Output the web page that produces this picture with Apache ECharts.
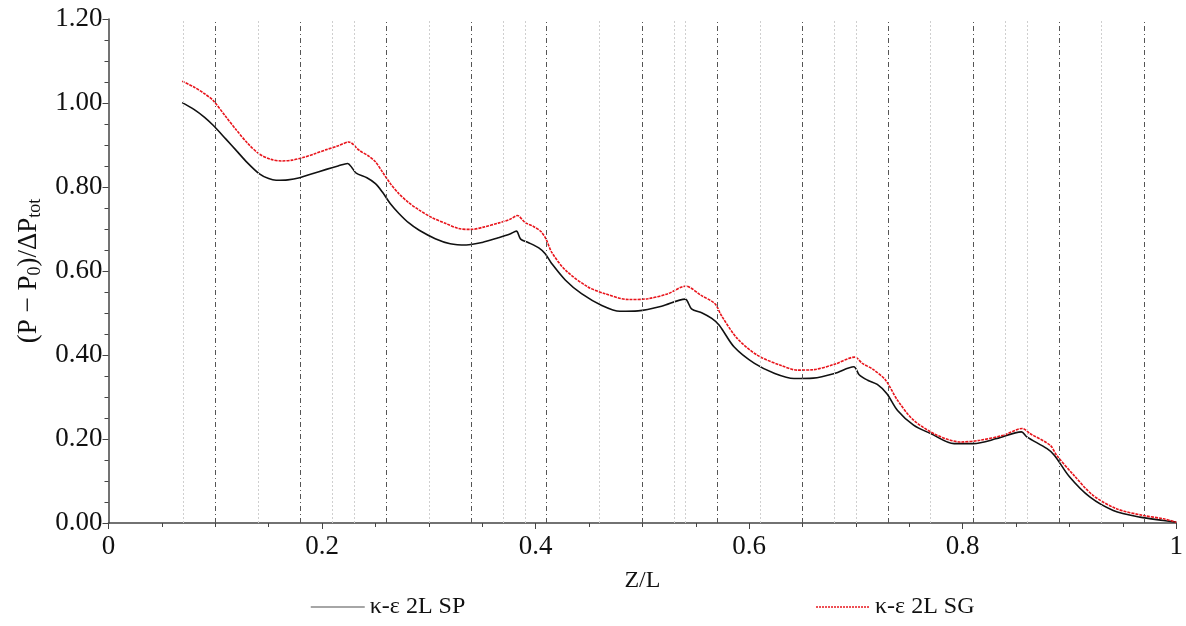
<!DOCTYPE html>
<html>
<head>
<meta charset="utf-8">
<script src="https://cdn.jsdelivr.net/npm/echarts@6/dist/echarts.min.js"></script>
<style>html,body{margin:0;padding:0;background:#fff;}#c{width:1186px;height:626px;}</style>
</head>
<body>
<div id="c"></div>
<script>
const xTicks = [0, 0.2, 0.4, 0.6, 0.8, 1];
const yTicks = [0, 0.2, 0.4, 0.6, 0.8, 1.0, 1.2];
const seriesNames = ['κ-ε 2L SP', 'κ-ε 2L SG'];

const spData = [
 [0.069,1.001],[0.08,0.985],[0.09,0.966],[0.098,0.947],[0.11,0.914],[0.12,0.886],[0.13,0.858],[0.141,0.832],
 [0.15,0.820],[0.157,0.816],[0.168,0.817],[0.179,0.822],[0.19,0.831],[0.204,0.842],[0.215,0.850],[0.224,0.856],
 [0.228,0.846],[0.232,0.833],[0.242,0.822],[0.250,0.808],[0.2565,0.788],[0.264,0.760],[0.272,0.737],[0.281,0.715],
 [0.291,0.697],[0.306,0.677],[0.32,0.665],[0.335,0.662],[0.35,0.668],[0.365,0.679],[0.376,0.688],[0.382,0.695],
 [0.386,0.676],[0.393,0.668],[0.403,0.655],[0.409,0.641],[0.415,0.618],[0.428,0.578],[0.443,0.546],[0.462,0.518],
 [0.479,0.504],[0.496,0.505],[0.518,0.516],[0.540,0.533],[0.546,0.510],[0.556,0.500],[0.565,0.487],[0.572,0.471],
 [0.586,0.419],[0.605,0.380],[0.624,0.356],[0.642,0.344],[0.66,0.345],[0.68,0.356],[0.698,0.372],[0.703,0.353],
 [0.711,0.340],[0.720,0.330],[0.729,0.308],[0.739,0.268],[0.754,0.233],[0.770,0.213],[0.792,0.189],[0.810,0.189],
 [0.832,0.201],[0.855,0.217],[0.860,0.205],[0.879,0.177],[0.886,0.161],[0.900,0.110],[0.919,0.062],[0.941,0.030],
 [0.966,0.014],[0.988,0.006],[1.0,0.002]
];
const sgData = [
 [0.069,1.052],[0.08,1.038],[0.09,1.022],[0.098,1.006],[0.11,0.967],[0.12,0.935],[0.13,0.905],[0.141,0.879],
 [0.152,0.866],[0.162,0.862],[0.172,0.864],[0.182,0.870],[0.193,0.879],[0.204,0.889],[0.215,0.898],[0.225,0.907],
 [0.235,0.887],[0.244,0.873],[0.250,0.860],[0.2565,0.836],[0.264,0.808],[0.272,0.784],[0.281,0.763],[0.291,0.745],
 [0.303,0.727],[0.316,0.713],[0.328,0.701],[0.340,0.699],[0.352,0.705],[0.365,0.714],[0.376,0.723],[0.383,0.732],
 [0.390,0.716],[0.398,0.706],[0.405,0.694],[0.410,0.675],[0.415,0.645],[0.428,0.602],[0.449,0.562],[0.465,0.546],
 [0.487,0.532],[0.505,0.534],[0.524,0.546],[0.5405,0.564],[0.555,0.542],[0.568,0.522],[0.574,0.494],[0.589,0.439],
 [0.608,0.399],[0.630,0.375],[0.645,0.364],[0.660,0.365],[0.680,0.378],[0.699,0.395],[0.706,0.380],[0.716,0.366],
 [0.7278,0.340],[0.739,0.292],[0.754,0.245],[0.776,0.209],[0.798,0.193],[0.816,0.197],[0.838,0.209],[0.856,0.225],
 [0.863,0.213],[0.882,0.185],[0.888,0.161],[0.904,0.114],[0.922,0.066],[0.944,0.034],[0.969,0.018],[0.988,0.010],
 [1.0,0.002]
];

const darkLines = [0.0987,0.1797,0.2565,0.3380,0.4142,0.4954,0.5723,0.6531,0.7300,0.8103,0.8880,0.9689];
const lightLines = [0.0692,0.1420,0.2123,0.2273,0.2991,0.3700,0.3856,0.4565,0.5278,0.5433,0.6143,0.6848,0.7013,0.7713,0.8429,0.8584,0.9293];

const font = "'Liberation Serif', 'Times New Roman', serif";
const chart = echarts.init(document.getElementById('c'), null, {renderer:'canvas'});

const vLines = []
  .concat(lightLines.map(v => ({xAxis: v, lineStyle: {color:'#cfcfcf', width:1, type:[2,2]}})))
  .concat(darkLines.map(v => ({xAxis: v, lineStyle: {color:'#555', width:1, type:[5,3,1,3]}})));

chart.setOption({
  animation: false,
  backgroundColor: '#fff',
  grid: {left: 108.5, right: 6, top: 19, bottom: 103, containLabel: false},
  legend: {
    show: true, left: 305, top: 590, itemGap: 350, itemWidth: 54, itemHeight: 14,
    textStyle: {fontFamily: font, fontSize: 24, color: '#111'},
    data: [
      {name: seriesNames[0], lineStyle: {color: '#888', width: 1.5}, itemStyle: {opacity: 0}},
      {name: seriesNames[1], lineStyle: {color: '#e8141b', width: 1.5, type: [2,1]}, itemStyle: {opacity: 0}}
    ]
  },
  xAxis: {
    type: 'value', min: 0, max: 1, interval: 0.2,
    name: 'Z/L', nameLocation: 'middle', nameGap: 46,
    nameTextStyle: {fontFamily: font, fontSize: 24, color: '#111'},
    axisLine: {show: true, lineStyle: {color: '#444', width: 1.5}},
    axisTick: {show: true, length: 6, lineStyle: {color: '#444'}},
    minorTick: {show: true, splitNumber: 4, length: 4, lineStyle: {color: '#444'}},
    splitLine: {show: false},
    axisLabel: {fontFamily: font, fontSize: 27, color: '#111', margin: 10,
      formatter: v => { const t = xTicks.find(t => Math.abs(t - v) < 1e-6); return t === undefined ? '' : String(t); }}
  },
  yAxis: {
    type: 'value', min: 0, max: 1.2, interval: 0.2,
    name: '(P − P{sub|0})/ΔP{sub|tot}', nameLocation: 'middle', nameGap: 62, nameRotate: 90,
    nameTextStyle: {fontFamily: font, fontSize: 27, color: '#111',
      rich: {sub: {fontFamily: font, fontSize: 18, color: '#111', verticalAlign: 'bottom', padding:[12,0,0,0]}}},
    axisLine: {show: true, lineStyle: {color: '#444', width: 1.5}},
    axisTick: {show: true, length: 6, lineStyle: {color: '#444'}},
    minorTick: {show: true, splitNumber: 4, length: 4, lineStyle: {color: '#444'}},
    splitLine: {show: false},
    axisLabel: {fontFamily: font, fontSize: 27, color: '#111', margin: 6,
      formatter: v => { const t = yTicks.find(t => Math.abs(t - v) < 1e-6); return t === undefined ? '' : t.toFixed(2); }}
  },
  series: [
    {
      name: seriesNames[0], type: 'line', data: spData, symbol: 'none', smooth: 0.3,
      lineStyle: {color: '#111', width: 1.6}, itemStyle: {color: '#888'}, z: 3,
      markLine: {silent: true, symbol: ['none','none'], label: {show: false}, data: vLines, animation: false}
    },
    {
      name: seriesNames[1], type: 'line', data: sgData, symbol: 'none', smooth: 0.3,
      lineStyle: {color: '#e8141b', width: 1.6, type: [3,1]}, itemStyle: {color: '#e8141b'}, z: 4
    }
  ]
});
</script>
</body>
</html>
